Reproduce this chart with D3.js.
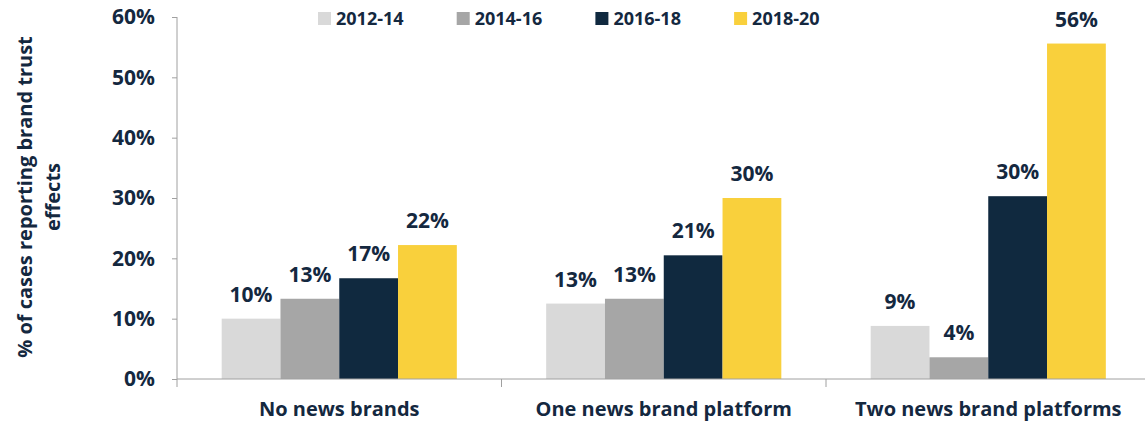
<!DOCTYPE html>
<html>
<head>
<meta charset="utf-8">
<script src="https://cdn.jsdelivr.net/npm/d3@7"></script>
<style>
  body { margin: 0; background: #fff; }
  svg { display: block; font-family: "Open Sans", sans-serif; font-weight: bold; }
</style>
</head>
<body>
<svg id="chart" width="1145" height="424"></svg>
<script>
// data
var categories = ["No news brands", "One news brand platform", "Two news brand platforms"];
var series = ["2012-14", "2014-16", "2016-18", "2018-20"];
var colors = ["#d9d9d9", "#a6a6a6", "#10293f", "#f9d03c"];
var v2012 = [10.0, 12.5, 8.8];
var v2014 = [13.3, 13.3, 3.6];
var v2016 = [16.7, 20.5, 30.3];
var v2018 = [22.2, 30.0, 55.6];
var yTicks = [0, 10, 20, 30, 40, 50, 60];

var values = [v2012, v2014, v2016, v2018];
var textColor = "#14283f";
var axisColor = "#a0a0a0";

var svg = d3.select("#chart");
var plotLeft = 177, plotRight = 1150.5, plotTop = 17, plotBottom = 379;

var y = d3.scaleLinear().domain([0, 60]).range([plotBottom, plotTop]);
var x0 = d3.scaleBand().domain(categories).range([plotLeft, plotRight]);
var x1 = d3.scaleBand().domain(series).range([0, x0.bandwidth()]).paddingOuter(0.76);

// bars
var groups = svg.append("g")
    .selectAll("g")
    .data(categories)
    .enter().append("g")
    .attr("transform", function(d) { return "translate(" + x0(d) + ",0)"; });

groups.selectAll("rect")
    .data(function(d, i) {
        return series.map(function(s, j) { return {s: s, v: values[j][i], j: j}; });
    })
    .enter().append("rect")
    .attr("x", function(d) { return x1(d.s); })
    .attr("width", x1.bandwidth())
    .attr("y", function(d) { return y(d.v); })
    .attr("height", function(d) { return y(0) - y(d.v); })
    .attr("fill", function(d) { return colors[d.j]; });

groups.selectAll("text")
    .data(function(d, i) {
        return series.map(function(s, j) { return {s: s, v: values[j][i]}; });
    })
    .enter().append("text")
    .attr("x", function(d) { return x1(d.s) + x1.bandwidth() / 2; })
    .attr("y", function(d) { return y(d.v) - 17; })
    .attr("text-anchor", "middle")
    .attr("font-size", 21)
    .attr("fill", textColor)
    .text(function(d) { return Math.round(d.v) + "%"; });

// y axis
var yAxis = svg.append("g")
    .attr("transform", "translate(" + plotLeft + ",0)")
    .call(d3.axisLeft(y).tickValues(yTicks).tickSize(5).tickSizeOuter(0).tickPadding(17)
        .tickFormat(function(d) { return d + "%"; }));
yAxis.select(".domain").remove();
yAxis.selectAll("line").attr("stroke", axisColor);
yAxis.selectAll("text")
    .attr("font-family", "Open Sans, sans-serif")
    .attr("font-weight", "bold")
    .attr("font-size", 21)
    .attr("fill", textColor);

svg.append("line")
    .attr("x1", plotLeft).attr("x2", plotLeft)
    .attr("y1", plotTop).attr("y2", plotBottom + 8)
    .attr("stroke", axisColor);

// x axis
svg.append("line")
    .attr("x1", plotLeft).attr("x2", plotRight)
    .attr("y1", plotBottom).attr("y2", plotBottom)
    .attr("stroke", axisColor);

svg.selectAll(".xtick")
    .data(categories.slice(1))
    .enter().append("line")
    .attr("class", "xtick")
    .attr("x1", function(d) { return x0(d); })
    .attr("x2", function(d) { return x0(d); })
    .attr("y1", plotBottom).attr("y2", plotBottom + 8)
    .attr("stroke", axisColor);

svg.selectAll(".xlabel")
    .data(categories)
    .enter().append("text")
    .attr("class", "xlabel")
    .attr("x", function(d) { return x0(d) + x0.bandwidth() / 2; })
    .attr("y", 416)
    .attr("text-anchor", "middle")
    .attr("font-size", 20)
    .attr("fill", textColor)
    .text(function(d) { return d; });

// y axis title
var title = svg.append("text")
    .attr("transform", "translate(25,197) rotate(-90)")
    .attr("text-anchor", "middle")
    .attr("font-size", 20)
    .attr("fill", textColor);
title.append("tspan").attr("x", 0).attr("dy", "0.35em").text("% of cases reporting brand trust");
title.append("tspan").attr("x", 0).attr("dy", "1.4em").text("effects");

// legend
var legend = svg.append("g")
    .selectAll("g")
    .data(series)
    .enter().append("g")
    .attr("transform", function(d, i) { return "translate(" + (318 + i * 138.7) + ",12)"; });

legend.append("rect")
    .attr("width", 13).attr("height", 13)
    .attr("fill", function(d, i) { return colors[i]; });

legend.append("text")
    .attr("x", 18)
    .attr("y", 13)
    .attr("font-size", 18)
    .attr("fill", textColor)
    .text(function(d) { return d; });
</script>
</body>
</html>
